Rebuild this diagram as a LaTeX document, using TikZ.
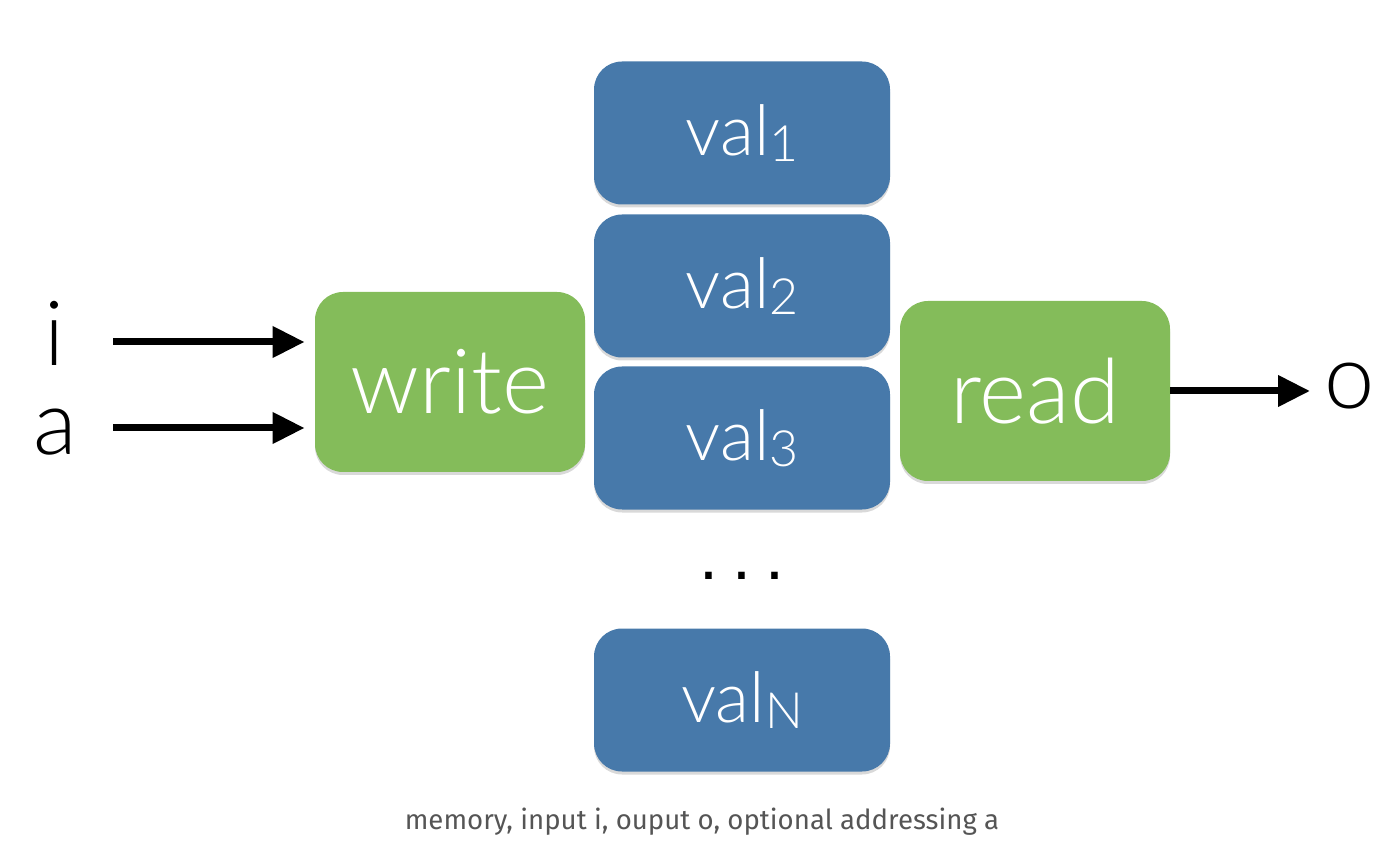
\documentclass[tikz,border=0pt]{standalone}
\usepackage{fontspec}
\setmainfont{Lato}
\newfontfamily\thinf{Lato Light}
\newfontfamily\capf{Fira Sans}
\newfontfamily\dotf{Liberation Sans}
\usetikzlibrary{arrows.meta,shadows}
\definecolor{boxblue}{HTML}{4779AA}
\definecolor{boxgreen}{HTML}{84BC5A}
\definecolor{capgray}{HTML}{555555}
\tikzset{
  valbox/.style={fill=boxblue, rounded corners=14pt, minimum width=148pt, minimum height=71.5pt, inner sep=0pt, text=white,
    drop shadow={shadow xshift=0pt, shadow yshift=-1.5pt, opacity=0.3}, font=\thinf\fontsize{35}{42}\selectfont},
  opbox/.style={fill=boxgreen, rounded corners=14pt, minimum width=135pt, minimum height=90pt, inner sep=0pt, text=white,
    drop shadow={shadow xshift=0pt, shadow yshift=-1.5pt, opacity=0.3}, font=\thinf\fontsize{45}{54}\selectfont},
  iolabel/.style={inner sep=0pt, font=\thinf\fontsize{45}{54}\selectfont},
  conn/.style={line width=3.5pt, -{Triangle[length=16pt,width=15pt]}},
}
\newcommand{\vsub}[1]{\raisebox{-3pt}{\fontsize{25}{30}\selectfont #1}}
\newcommand{\vtext}[1]{\raisebox{-1.5pt}{val\vsub{#1}}}
\begin{document}
\begin{tikzpicture}[x=0.5pt,y=-0.5pt]
\useasboundingbox (0,0) rectangle (1400,854);
\node[valbox] (v1) at (742,133) {\vtext{1}};
\node[valbox] (v2) at (742,286) {\vtext{2}};
\node[valbox] (v3) at (742,438) {\vtext{3}};
\node[valbox] (vN) at (742,700) {\vtext{N}};
\node[inner sep=0pt, font=\dotf\fontsize{34}{40}\selectfont] (dots) at (742,576) {.\hspace{7pt}.\hspace{7pt}.};
\node[opbox] (write) at (450,382) {write};
\node[opbox] (read) at (1035,391) {read};
\node[iolabel] (i) at (55,333) {i};
\node[iolabel] (a) at (55,432) {a};
\node[iolabel, anchor=west] (o) at (1324,386) {o};
\coordinate (is) at (113,342);
\coordinate (as) at (113,428);
\draw[conn, shorten >=5pt] (is) -- (write.west |- is);
\draw[conn, shorten >=5pt] (as) -- (write.west |- as);
\draw[conn, shorten >=7pt] (read.east) -- (o.west |- read.east);
\node[text=capgray, font=\capf\fontsize{13.8}{16}\selectfont] (cap) at (702,822) {memory, input i, ouput o, optional addressing a};
\end{tikzpicture}
\end{document}
